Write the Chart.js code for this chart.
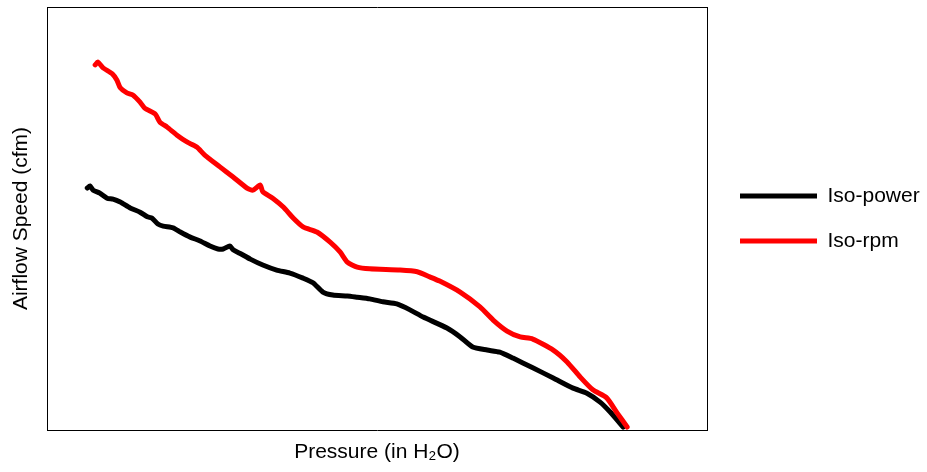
<!DOCTYPE html>
<html>
<head>
<meta charset="utf-8">
<script src="https://cdn.jsdelivr.net/npm/chart.js@4/dist/chart.umd.min.js"></script>
<style>
  html, body { margin: 0; padding: 0; background: #ffffff; }
  #wrap { width: 927px; height: 472px; }
</style>
</head>
<body>
<div id="wrap"><canvas id="c" width="927" height="472"></canvas></div>
<script>
// Axis labels / series names
const xTitle = 'Pressure (in H\u2082O)';
const yTitle = 'Airflow Speed (cfm)';
const seriesNames = ['Iso-power', 'Iso-rpm'];

// Iso-power (black) curve, relative units (0–100 of each axis)
const isoPowerPressure = [6.1, 6.5, 7.0, 8.0, 9.1, 10.0, 11.1, 12.6, 14.1, 15.2, 15.9, 16.8, 17.6, 19.1, 20.2, 21.7, 23.2, 24.7, 25.9, 26.7, 27.7, 28.2, 29.2, 30.8, 32.7, 34.8, 36.8, 38.8, 40.3, 41.8, 43.3, 45.5, 47.0, 48.9, 50.9, 53.0, 55.0, 57.0, 60.6, 62.6, 64.5, 66.7, 68.6, 70.6, 73.6, 76.7, 79.7, 81.8, 83.8, 85.3, 87.3];
const isoPowerAirflow = [57.2, 57.7, 56.7, 56.0, 54.8, 54.6, 53.9, 52.5, 51.5, 50.4, 50.1, 48.7, 48.2, 47.8, 46.8, 45.6, 44.7, 43.5, 42.8, 42.8, 43.5, 42.6, 41.8, 40.4, 39.0, 37.8, 37.1, 35.9, 34.8, 32.6, 31.9, 31.7, 31.4, 31.0, 30.3, 29.8, 28.4, 26.7, 24.1, 22.0, 19.6, 18.9, 18.4, 17.0, 14.7, 12.3, 9.9, 8.7, 6.6, 4.3, 0.7];

// Iso-rpm (red) curve
const isoRpmPressure = [7.3, 7.7, 8.5, 9.9, 10.6, 11.1, 12.1, 13.0, 14.1, 14.8, 16.4, 17.1, 18.2, 19.7, 21.2, 22.7, 23.9, 26.2, 28.2, 30.3, 31.2, 32.3, 32.7, 34.2, 35.8, 37.3, 38.8, 40.9, 42.9, 44.4, 45.5, 47.0, 48.9, 53.5, 56.1, 58.0, 59.5, 62.6, 65.6, 67.6, 69.7, 71.7, 73.6, 76.7, 78.8, 80.8, 82.7, 84.8, 86.4, 87.9];
const isoRpmAirflow = [86.3, 87.0, 85.6, 84.2, 82.7, 80.9, 79.7, 79.2, 77.5, 76.1, 74.7, 72.8, 71.6, 69.7, 68.1, 66.9, 65.0, 62.2, 59.8, 57.2, 56.7, 57.9, 56.3, 54.8, 52.7, 50.1, 48.0, 46.8, 44.4, 42.1, 39.7, 38.5, 38.1, 37.8, 37.4, 36.2, 35.2, 32.6, 29.1, 26.0, 23.4, 22.0, 21.5, 18.9, 16.1, 12.5, 9.5, 7.6, 4.0, 0.7];

const zip = (xs, ys) => xs.map((x, i) => ({ x: x, y: ys[i] }));

const FONT = "'Liberation Sans', Arial, Helvetica, sans-serif";

new Chart(document.getElementById('c'), {
  type: 'line',
  data: {
    datasets: [
      {
        label: seriesNames[0],
        data: zip(isoPowerPressure, isoPowerAirflow),
        borderColor: '#000000',
        backgroundColor: '#000000',
        borderWidth: 5,
        pointRadius: 0,
        tension: 0.2,
        borderCapStyle: 'round',
        borderJoinStyle: 'round',
        fill: false,
        order: 1
      },
      {
        label: seriesNames[1],
        data: zip(isoRpmPressure, isoRpmAirflow),
        borderColor: '#ff0000',
        backgroundColor: '#ff0000',
        borderWidth: 5,
        pointRadius: 0,
        tension: 0.2,
        borderCapStyle: 'round',
        borderJoinStyle: 'round',
        fill: false,
        order: 0
      }
    ]
  },
  options: {
    responsive: false,
    animation: false,
    devicePixelRatio: 1,
    layout: { padding: { top: 7, right: 0, bottom: 0, left: 0 } },
    plugins: {
      tooltip: { enabled: false },
      legend: {
        position: 'right',
        align: 'center',
        fullSize: false,
        maxWidth: 211,
        labels: {
          usePointStyle: true,
          pointStyle: 'line',
          pointStyleWidth: 77,
          padding: 24,
          color: '#000000',
          font: { family: FONT, size: 21 },
          sort: (a, b) => a.datasetIndex - b.datasetIndex,
          generateLabels: (chart) => {
            const items = Chart.defaults.plugins.legend.labels.generateLabels(chart);
            items.forEach(it => { it.lineCap = 'butt'; it.lineWidth = 5; it.pointStyle = 'line'; });
            return items;
          }
        }
      }
    },
    scales: {
      x: {
        type: 'linear',
        position: 'bottom',
        min: 0,
        max: 100,
        ticks: { display: false },
        grid: { display: false, drawTicks: false },
        border: { display: true, color: '#000000', width: 1 },
        title: {
          display: true,
          text: xTitle,
          color: '#000000',
          font: { family: FONT, size: 21 },
          padding: { top: 9.4, bottom: 7.4 }
        }
      },
      y: {
        type: 'linear',
        position: 'left',
        min: 0,
        max: 100,
        ticks: { display: false },
        grid: { display: false, drawTicks: false },
        border: { display: true, color: '#000000', width: 1 },
        title: {
          display: true,
          text: yTitle,
          color: '#000000',
          font: { family: FONT, size: 21 },
          padding: { top: 8.4, bottom: 13.4 }
        }
      },
      x2: {
        type: 'linear',
        position: 'top',
        min: 0,
        max: 100,
        ticks: { display: false },
        grid: { display: false, drawTicks: false },
        border: { display: true, color: '#000000', width: 1 },
        afterFit: (s) => { s.height = 0; }
      },
      y2: {
        type: 'linear',
        position: 'right',
        min: 0,
        max: 100,
        ticks: { display: false },
        grid: { display: false, drawTicks: false },
        border: { display: true, color: '#000000', width: 1 },
        afterFit: (s) => { s.width = 9; }
      }
    }
  }
});
</script>
</body>
</html>
